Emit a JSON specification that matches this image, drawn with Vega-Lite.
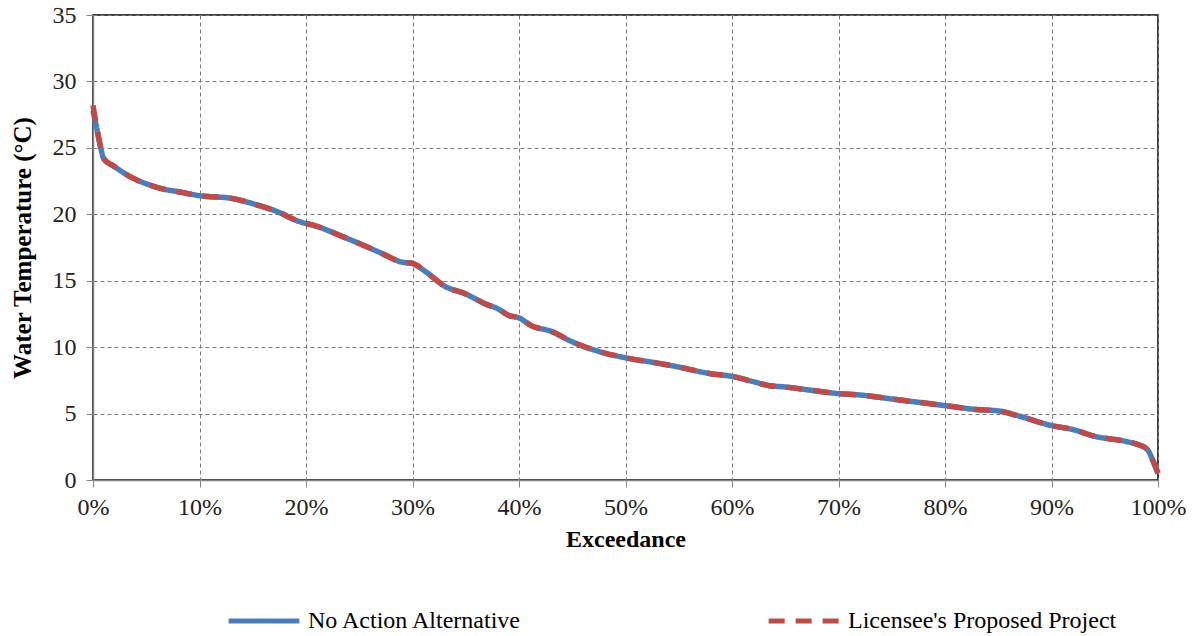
{
  "$schema": "https://vega.github.io/schema/vega-lite/v6.json",
  "width": 1065,
  "height": 465,
  "autosize": {"type": "none"},
  "padding": {"left": 93, "top": 15, "right": 39, "bottom": 156},
  "background": "white",
  "config": {
    "view": {"stroke": "#000000", "strokeWidth": 1.5},
    "font": "Liberation Serif"
  },
  "data": {"values": [
    {"x": 0.000, "noAction": 27.8, "licensee": 28.2},
    {"x": 0.004, "noAction": 26.3, "licensee": 26.3},
    {"x": 0.007, "noAction": 25.1, "licensee": 25.1},
    {"x": 0.010, "noAction": 24.2, "licensee": 24.2},
    {"x": 0.020, "noAction": 23.6, "licensee": 23.6},
    {"x": 0.038, "noAction": 22.7, "licensee": 22.7},
    {"x": 0.050, "noAction": 22.3, "licensee": 22.3},
    {"x": 0.066, "noAction": 21.9, "licensee": 21.9},
    {"x": 0.080, "noAction": 21.7, "licensee": 21.7},
    {"x": 0.100, "noAction": 21.4, "licensee": 21.4},
    {"x": 0.130, "noAction": 21.2, "licensee": 21.2},
    {"x": 0.150, "noAction": 20.8, "licensee": 20.8},
    {"x": 0.173, "noAction": 20.2, "licensee": 20.2},
    {"x": 0.192, "noAction": 19.5, "licensee": 19.5},
    {"x": 0.210, "noAction": 19.1, "licensee": 19.1},
    {"x": 0.235, "noAction": 18.3, "licensee": 18.3},
    {"x": 0.250, "noAction": 17.8, "licensee": 17.8},
    {"x": 0.270, "noAction": 17.1, "licensee": 17.1},
    {"x": 0.290, "noAction": 16.4, "licensee": 16.4},
    {"x": 0.300, "noAction": 16.3, "licensee": 16.3},
    {"x": 0.312, "noAction": 15.7, "licensee": 15.7},
    {"x": 0.330, "noAction": 14.6, "licensee": 14.6},
    {"x": 0.350, "noAction": 14.0, "licensee": 14.0},
    {"x": 0.370, "noAction": 13.2, "licensee": 13.2},
    {"x": 0.380, "noAction": 12.9, "licensee": 12.9},
    {"x": 0.390, "noAction": 12.4, "licensee": 12.4},
    {"x": 0.400, "noAction": 12.2, "licensee": 12.2},
    {"x": 0.412, "noAction": 11.6, "licensee": 11.6},
    {"x": 0.430, "noAction": 11.2, "licensee": 11.2},
    {"x": 0.450, "noAction": 10.4, "licensee": 10.4},
    {"x": 0.470, "noAction": 9.8, "licensee": 9.8},
    {"x": 0.500, "noAction": 9.2, "licensee": 9.2},
    {"x": 0.530, "noAction": 8.8, "licensee": 8.8},
    {"x": 0.550, "noAction": 8.5, "licensee": 8.5},
    {"x": 0.580, "noAction": 8.0, "licensee": 8.0},
    {"x": 0.600, "noAction": 7.8, "licensee": 7.8},
    {"x": 0.620, "noAction": 7.4, "licensee": 7.4},
    {"x": 0.635, "noAction": 7.1, "licensee": 7.1},
    {"x": 0.650, "noAction": 7.0, "licensee": 7.0},
    {"x": 0.670, "noAction": 6.8, "licensee": 6.8},
    {"x": 0.700, "noAction": 6.5, "licensee": 6.5},
    {"x": 0.720, "noAction": 6.4, "licensee": 6.4},
    {"x": 0.750, "noAction": 6.1, "licensee": 6.1},
    {"x": 0.770, "noAction": 5.9, "licensee": 5.9},
    {"x": 0.800, "noAction": 5.6, "licensee": 5.6},
    {"x": 0.830, "noAction": 5.3, "licensee": 5.3},
    {"x": 0.850, "noAction": 5.2, "licensee": 5.2},
    {"x": 0.870, "noAction": 4.8, "licensee": 4.8},
    {"x": 0.900, "noAction": 4.1, "licensee": 4.1},
    {"x": 0.920, "noAction": 3.8, "licensee": 3.8},
    {"x": 0.940, "noAction": 3.3, "licensee": 3.3},
    {"x": 0.970, "noAction": 2.9, "licensee": 2.9},
    {"x": 0.980, "noAction": 2.7, "licensee": 2.7},
    {"x": 0.990, "noAction": 2.3, "licensee": 2.3},
    {"x": 0.995, "noAction": 1.5, "licensee": 1.5},
    {"x": 1.000, "noAction": 0.5, "licensee": 0.5}
  ]},
  "transform": [
    {"fold": ["noAction", "licensee"], "as": ["key", "temp"]},
    {"lookup": "key", "from": {"data": {"values": [
      {"key": "noAction", "series": "No Action Alternative"},
      {"key": "licensee", "series": "Licensee's Proposed Project"}
    ]}, "key": "key", "fields": ["series"]}}
  ],
  "mark": {"type": "line", "strokeWidth": 5.5, "strokeCap": "butt", "interpolate": "monotone"},
  "encoding": {
    "x": {
      "field": "x", "type": "quantitative",
      "scale": {"domain": [0, 1], "nice": false},
      "axis": {
        "title": "Exceedance",
        "titleFont": "Liberation Serif", "titleFontSize": 24, "titleFontWeight": "bold", "titleColor": "#000",
        "titlePadding": 8,
        "format": ".0%", "values": [0, 0.1, 0.2, 0.3, 0.4, 0.5, 0.6, 0.7, 0.8, 0.9, 1.0],
        "labelFont": "Liberation Serif", "labelFontSize": 24, "labelColor": "#222", "labelPadding": 8,
        "labelFlush": false,
        "domainColor": "#868686", "domainWidth": 1.5, "tickColor": "#868686", "tickSize": 7,
        "grid": true, "gridColor": "#7a7a7a", "gridDash": [4, 3], "gridWidth": 1, "zindex": 0
      }
    },
    "y": {
      "field": "temp", "type": "quantitative",
      "scale": {"domain": [0, 35], "nice": false},
      "axis": {
        "title": "Water Temperature  (°C)",
        "titleFont": "Liberation Serif", "titleFontSize": 25, "titleFontWeight": "bold", "titleColor": "#000",
        "titlePadding": 17,
        "values": [0, 5, 10, 15, 20, 25, 30, 35],
        "labelFont": "Liberation Serif", "labelFontSize": 24, "labelColor": "#222", "labelPadding": 10,
        "domainColor": "#868686", "domainWidth": 1.5, "tickColor": "#868686", "tickSize": 7,
        "grid": true, "gridColor": "#7a7a7a", "gridDash": [4, 3], "gridWidth": 1, "zindex": 0
      }
    },
    "color": {
      "field": "series", "type": "nominal",
      "scale": {"domain": ["No Action Alternative", "Licensee's Proposed Project"], "range": ["#4a7ebb", "#be4b48"]},
      "legend": {
        "title": null, "orient": "none", "direction": "horizontal",
        "legendX": 133, "legendY": 568,
        "symbolType": "stroke", "symbolSize": 5000, "symbolStrokeWidth": 5,
        "labelFont": "Liberation Serif", "labelFontSize": 24, "labelColor": "#000",
        "labelOffset": 6, "columnPadding": 235, "labelLimit": 400
      }
    },
    "strokeDash": {
      "field": "series", "type": "nominal",
      "scale": {"domain": ["No Action Alternative", "Licensee's Proposed Project"], "range": [[1, 0], [16, 11]]},
      "legend": null
    },
    "order": {"field": "key", "sort": "descending"}
  }
}
